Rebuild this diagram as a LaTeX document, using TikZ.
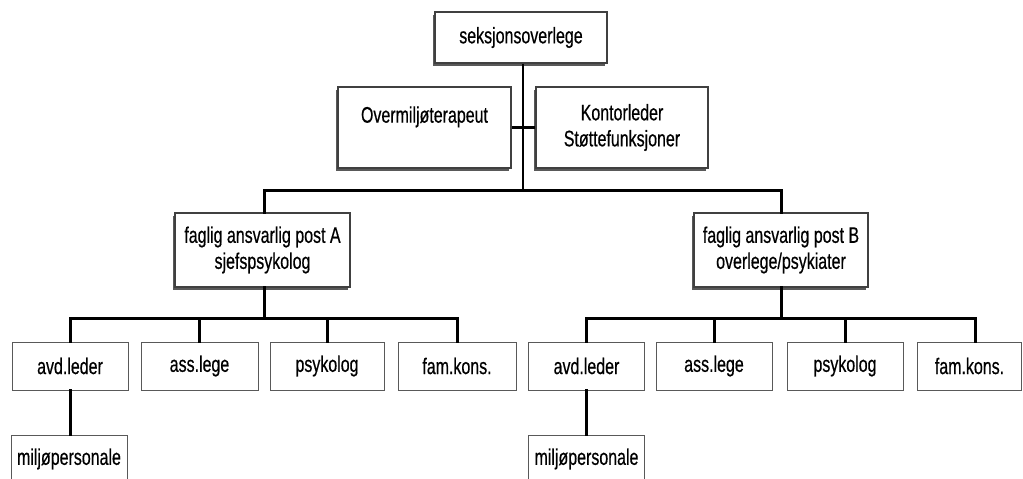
\documentclass[tikz,border=0pt]{standalone}
\usepackage{fontspec}
\setmainfont{Liberation Sans}[FakeStretch=0.71,FakeBold=0.5]
\usetikzlibrary{shadows}
\begin{document}
\begin{tikzpicture}[x=1pt,y=-1pt,
  topbox/.style={draw=black!75,line width=1.2pt,fill=white,rectangle,inner sep=0pt,align=center,
    drop shadow={shadow xshift=-2.5pt,shadow yshift=-2.5pt,fill=black!65,opacity=1},
    font=\fontsize{22.5}{26}\selectfont},
  lowbox/.style={draw=black!65,line width=1pt,fill=white,rectangle,inner sep=0pt,align=center,
    minimum width=116pt,minimum height=48pt,font=\fontsize{22.5}{26}\selectfont},
  conn/.style={line width=3pt,line cap=rect},
  thinconn/.style={line width=2pt}]
\useasboundingbox (0,0) rectangle (1023,479);

% top level
\node[topbox,minimum width=172pt,minimum height=51pt] (sek) at (521,37.5) {seksjonsoverlege};
\node[topbox,minimum width=173pt,minimum height=81pt] (ovm) at (424.5,127.5) {Overmiljøterapeut\\\mbox{}};
\node[topbox,minimum width=172pt,minimum height=81pt] (kon) at (622,127.5) {Kontorleder\\Støttefunksjoner};
\node[topbox,minimum width=175pt,minimum height=74pt] (fagA) at (262.5,250) {faglig ansvarlig post A\\sjefspsykolog};
\node[topbox,minimum width=174pt,minimum height=74pt] (fagB) at (781,250) {faglig ansvarlig post B\\overlege/psykiater};

% left group
\node[lowbox] (avdA) at (70,366) {avd.leder};
\node[lowbox,minimum width=117pt] (assA) at (199.5,366) {ass.lege};
\node[lowbox,minimum width=114pt] (psyA) at (327,366) {psykolog};
\node[lowbox,minimum width=118pt] (famA) at (457,366) {fam.kons.};
\node[lowbox,minimum height=48pt] (milA) at (69,459) {miljøpersonale};

% right group
\node[lowbox] (avdB) at (586.5,366) {avd.leder};
\node[lowbox] (assB) at (714,366) {ass.lege};
\node[lowbox] (psyB) at (845,366) {psykolog};
\node[lowbox,minimum width=104pt] (famB) at (969.5,366) {fam.kons.};
\node[lowbox,minimum height=48pt] (milB) at (586.5,459) {miljøpersonale};

% junctions
\coordinate (hb) at (523,190);
\coordinate (jA) at (264,318);
\coordinate (jB) at (781,318);
\coordinate (famBx) at (975,0);

% connectors
\draw[thinconn] (sek.south -| hb) -- (hb);
\draw[line width=3.8pt] (ovm.east) -- (kon.west);
\draw[conn] (fagA.north -| jA) |- (hb) -| (fagB.north);

\draw[conn] (fagA.south -| jA) -- (jA);
\draw[conn] (avdA.north) |- (jA) -| (famA.north);
\draw[conn] (assA.north) -- (assA.north |- jA);
\draw[conn] (psyA.north) -- (psyA.north |- jA);
\draw[conn] (avdA.south) -- (milA.north -| avdA.south);

\draw[conn] (fagB.south) -- (jB);
\draw[conn] (avdB.north) |- (jB) -| (famB.north -| famBx);
\draw[conn] (assB.north) -- (assB.north |- jB);
\draw[conn] (psyB.north) -- (psyB.north |- jB);
\draw[conn] (avdB.south) -- (milB.north);
\end{tikzpicture}
\end{document}
